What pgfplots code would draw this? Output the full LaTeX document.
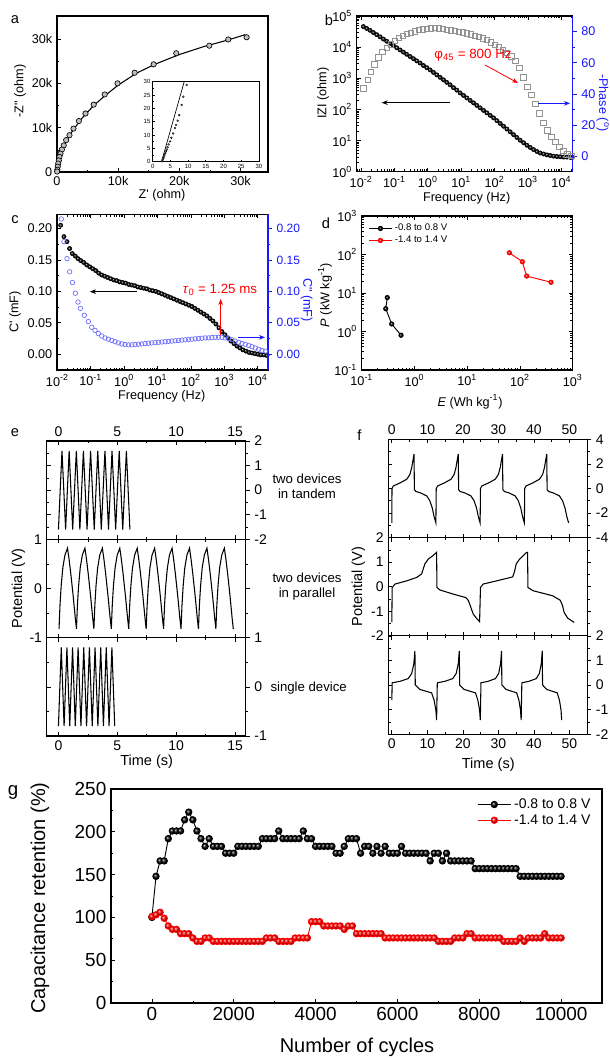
\documentclass[border=0pt]{standalone}
\usepackage{fontspec}
\setmainfont{Liberation Sans}
\usepackage{pgfplots}
\pgfplotsset{compat=1.18}
\usetikzlibrary{arrows.meta}
\newcommand{\fs}[1]{\fontsize{#1}{#1}\selectfont}
\newcommand{\tp}[1]{10\textsuperscript{#1}}
\definecolor{pblue}{rgb}{0.1,0.1,1}
\definecolor{cblue}{rgb}{0.42,0.42,1}
\pgfplotsset{
  mlx/.style={minor xtick={2e-3,3e-3,4e-3,5e-3,6e-3,7e-3,8e-3,9e-3,2e-2,3e-2,4e-2,5e-2,6e-2,7e-2,8e-2,9e-2,0.2,0.3,0.4,0.5,0.6,0.7,0.8,0.9,2,3,4,5,6,7,8,9,20,30,40,50,60,70,80,90,200,300,400,500,600,700,800,900,2000,3000,4000,5000,6000,7000,8000,9000,20000}},
  mly/.style={minor ytick={0.2,0.3,0.4,0.5,0.6,0.7,0.8,0.9,2,3,4,5,6,7,8,9,20,30,40,50,60,70,80,90,200,300,400,500,600,700,800,900,2000,3000,4000,5000,6000,7000,8000,9000,20000,30000,40000,50000,60000,70000,80000,90000}},
  every axis/.append style={scale only axis, anchor=north west,
    axis line style={line width=0.8pt},
    every tick/.append style={line width=0.5pt,black},
    major tick length=3pt, minor tick length=1.7pt, tick align=inside,
    tick label style={font=\fs{9.5}},
    scaled x ticks=false, scaled y ticks=false,
    /pgf/number format/assume math mode=true},
  rax/.style={axis x line=none, axis y line*=right, tick align=outside},
  ebase/.style={width=149.25pt, height=73.75pt, xmin=-1, xmax=15.9, xtick={0,5,10,15}, minor x tick num=1, tick label style={font=\fs{10.5}}},
  fbase/.style={width=149.25pt, height=73.7pt, xmin=-1, xmax=55, xtick={0,10,20,30,40,50}, minor x tick num=1, tick label style={font=\fs{10.5}}},
}
\begin{document}
\begin{tikzpicture}
\useasboundingbox (0,0) rectangle (457.5pt,-795pt);
% ---------------- panel a
\begin{axis}[at={(42.75pt,-12pt)}, width=158.25pt, height=117pt,
  xmin=0, xmax=34500, ymin=0, ymax=35200,
  xtick={0,10000,20000,30000}, xticklabels={0,10k,20k,30k},
  ytick={0,10000,20000,30000}, yticklabels={0,10k,20k,30k},
  minor x tick num=1, minor y tick num=1, xtick pos=left, ytick pos=left]
\addplot[black, line width=0.8pt] coordinates {(0,0)(40,500)(150,1500)(400,3100)(800,4800)(1500,6900)(2500,9200)(4000,12000)(6000,15000)(8000,17400)(10000,19600)(13000,22300)(16000,24300)(20000,26500)(24000,28300)(28000,29800)(30800,31000)};
\addplot[only marks, mark=*, mark size=2pt, mark options={fill=gray!50, draw=black, line width=0.5pt}] coordinates {(31000,30400)(28000,29900)(24900,28500)(19500,26800)(15800,24300)(12700,22400)(9900,20000)(7800,17500)(6000,15200)(4660,13200)(3570,11500)(2700,9800)(2040,8300)(1500,7200)(1100,6000)(800,5050)(570,4150)(400,3400)(300,2600)(200,1900)(120,1200)(60,500)(20,100)};
\end{axis}
% inset
\begin{axis}[at={(114.5pt,-61.3pt)}, width=79.7pt, height=60pt,
  xmin=0, xmax=30, ymin=0, ymax=30, xtick={0,5,...,30}, ytick={0,5,...,30},
  minor x tick num=1, minor y tick num=1, xtick pos=left, ytick pos=left,
  tick label style={font=\fs{4.5}}, major tick length=1.5pt, minor tick length=0.8pt,
  axis line style={line width=0.5pt}, axis background/.style={fill=white},
  xticklabel style={yshift=1.8pt}, yticklabel style={xshift=1.8pt}]
\addplot[black, line width=0.5pt] coordinates {(2.5,0)(8.9,30)};
\addplot[only marks, mark=*, mark size=0.7pt, mark options={fill=gray!50, draw=black, line width=0.3pt}] coordinates {(2.6,0.2)(2.75,0.6)(2.9,1.0)(3.0,1.4)(3.15,1.9)(3.3,2.4)(3.5,3.1)(3.7,3.8)(3.95,4.5)(4.2,5.4)(4.5,6.5)(4.9,7.6)(5.3,9.0)(5.8,10.6)(6.3,12.6)(6.6,13.8)(7.05,15.4)(7.5,17.5)(8.2,21.3)(8.65,24.4)(9.6,28.8)};
\end{axis}
\node[font=\fs{9.5}] at (121.5pt,-146.25pt) {Z\textquotesingle\ (ohm)};
\node[font=\fs{9.5}, rotate=90] at (15pt,-68.25pt) {-Z\textquotedbl\ (ohm)};
\node[font=\fs{11}] at (11.25pt,-15pt) {a};
% ---------------- panel b
\begin{axis}[at={(267.5pt,-12pt)}, width=162pt, height=116.8pt,
  xmode=log, ymode=log, xmin=0.0074, xmax=21900, ymin=1, ymax=1e5,
  xtick={1e-2,1e-1,1,10,100,1000,10000}, xticklabels={\tp{-2},\tp{-1},\tp{0},\tp{1},\tp{2},\tp{3},\tp{4}},
  ytick={1,10,100,1000,10000,100000}, yticklabels={\tp{0},\tp{1},\tp{2},\tp{3},\tp{4},\tp{5}},
  mlx, mly, xtick pos=both, ytick pos=left]
\addplot[only marks, mark=ball, mark size=1.6pt, mark options={ball color=black}] table[x expr={10^\thisrowno{0}}, y expr={10^\thisrowno{1}}] {
-1.93 4.66
-1.83 4.60
-1.73 4.54
-1.63 4.47
-1.53 4.40
-1.43 4.33
-1.33 4.26
-1.23 4.19
-1.13 4.12
-1.03 4.05
-0.93 3.98
-0.83 3.91
-0.73 3.84
-0.63 3.77
-0.53 3.70
-0.43 3.63
-0.33 3.56
-0.23 3.49
-0.13 3.41
-0.03 3.34
0.07 3.27
0.17 3.19
0.27 3.11
0.37 3.03
0.47 2.95
0.57 2.87
0.67 2.79
0.77 2.70
0.87 2.62
0.97 2.53
1.07 2.45
1.17 2.37
1.27 2.29
1.37 2.21
1.47 2.13
1.57 2.05
1.67 1.97
1.77 1.89
1.87 1.81
1.97 1.73
2.07 1.64
2.17 1.55
2.27 1.46
2.37 1.37
2.47 1.28
2.57 1.19
2.67 1.10
2.77 1.01
2.87 0.93
2.97 0.85
3.07 0.78
3.17 0.71
3.27 0.65
3.37 0.60
3.47 0.57
3.57 0.54
3.67 0.52
3.77 0.50
3.87 0.49
3.97 0.48
4.07 0.47
4.17 0.47
4.27 0.46
4.33 0.46
};
\end{axis}
\begin{axis}[at={(267.5pt,-12pt)}, width=162pt, height=116.8pt, rax,
  xmode=log, xmin=0.0074, xmax=21900, ymin=-10, ymax=90,
  ytick={0,20,40,60,80}, minor y tick num=1,
  y axis line style={pblue, line width=0.8pt}, every tick/.append style={pblue}, yticklabel style={pblue}]
\addplot[only marks, mark=square, mark size=2pt, mark options={draw=gray!85, line width=0.6pt}] table[x expr={10^\thisrowno{0}}, y index=1] {
-1.93 43.5
-1.80 48.9
-1.70 54.2
-1.60 59.0
-1.48 63.5
-1.36 67.0
-1.23 69.6
-1.11 71.8
-0.98 74.0
-0.86 75.8
-0.74 77.2
-0.62 78.3
-0.50 79.3
-0.38 80.1
-0.26 80.9
-0.14 81.5
-0.02 81.9
0.10 82.1
0.22 82.2
0.34 82.0
0.46 81.6
0.58 81.2
0.70 80.8
0.82 80.4
0.94 79.9
1.06 79.4
1.18 78.8
1.30 78.1
1.42 77.3
1.54 76.5
1.66 75.6
1.78 74.5
1.90 73.1
2.02 71.6
2.14 70.0
2.26 68.3
2.38 66.3
2.50 64.0
2.62 61.0
2.74 56.8
2.86 50.5
2.98 44.5
3.10 39.5
3.22 33.5
3.34 27.5
3.46 21.2
3.58 16.5
3.70 12.5
3.82 9.0
3.94 5.8
4.06 3.3
4.18 1.2
4.30 0.0
};
\end{axis}
\node[font=\fs{9.5}] at (350pt,-148.3pt) {Frequency (Hz)};
\node[font=\fs{9.5}, rotate=90] at (242.25pt,-69.75pt) {IZI (ohm)};
\node[font=\fs{9.5}, rotate=-90, text=pblue] at (452pt,-77.25pt) {-Phase (\textsuperscript{o})};
\node[font=\fs{10}, text=red] at (354.75pt,-41.25pt) {φ\textsubscript{45} = 800 Hz};
\draw[red, line width=0.6pt, -{Stealth[length=4.5pt,width=3.5pt]}] (363.75pt,-48.75pt) -- (388.5pt,-62.25pt);
\draw[black, line width=0.6pt, -{Stealth[length=4.5pt,width=3.5pt]}] (337.5pt,-77pt) -- (286.3pt,-77pt);
\draw[pblue, line width=0.6pt, -{Stealth[length=4.5pt,width=3.5pt]}] (403.7pt,-77.5pt) -- (427.5pt,-77.5pt);
\node[font=\fs{11}] at (246.75pt,-15pt) {b};
% ---------------- panel c
\begin{axis}[at={(42.75pt,-160.7pt)}, width=158.25pt, height=116.8pt,
  xmode=log, xmin=0.0098, xmax=20400, ymin=-0.025, ymax=0.2225,
  xtick={1e-2,1e-1,1,10,100,1000,10000}, xticklabels={\tp{-2},\tp{-1},\tp{0},\tp{1},\tp{2},\tp{3},\tp{4}},
  ytick={0,0.05,0.1,0.15,0.2}, yticklabels={0.00,0.05,0.10,0.15,0.20}, minor y tick num=1,
  mlx, xtick pos=both, ytick pos=left]
\addplot[only marks, mark=ball, mark size=1.6pt, mark options={ball color=black}] table[x expr={10^\thisrowno{0}}, y index=1] {
-1.90 0.205
-1.80 0.187
-1.71 0.179
-1.63 0.168
-1.55 0.160
-1.46 0.156
-1.38 0.152
-1.30 0.149
-1.21 0.146
-1.12 0.142
-1.03 0.139
-0.94 0.136
-0.85 0.133
-0.76 0.129
-0.67 0.126
-0.58 0.124
-0.49 0.122
-0.40 0.120
-0.31 0.118
-0.22 0.117
-0.13 0.115
-0.04 0.114
0.05 0.113
0.14 0.111
0.23 0.110
0.32 0.109
0.41 0.107
0.50 0.106
0.59 0.105
0.68 0.104
0.77 0.102
0.86 0.101
0.95 0.100
1.04 0.098
1.13 0.096
1.22 0.094
1.31 0.092
1.40 0.090
1.49 0.088
1.58 0.086
1.67 0.084
1.76 0.082
1.85 0.080
1.94 0.078
2.03 0.076
2.12 0.073
2.21 0.070
2.30 0.067
2.39 0.064
2.48 0.061
2.57 0.057
2.66 0.053
2.75 0.048
2.84 0.042
2.93 0.036
3.02 0.031
3.11 0.026
3.20 0.021
3.29 0.017
3.38 0.013
3.47 0.010
3.56 0.007
3.65 0.005
3.74 0.003
3.83 0.002
3.92 0.001
4.01 0.000
4.10 -0.001
4.19 -0.001
4.28 -0.002
};
\end{axis}
\begin{axis}[at={(42.75pt,-160.7pt)}, width=158.25pt, height=116.8pt, rax,
  xmode=log, xmin=0.0098, xmax=20400, ymin=-0.025, ymax=0.2225,
  ytick={0,0.05,0.1,0.15,0.2}, yticklabels={0.00,0.05,0.10,0.15,0.20}, minor y tick num=1,
  yticklabel style={pblue, font=\fs{9}},
  y axis line style={pblue, line width=0.8pt}, every tick/.append style={pblue}]
\addplot[only marks, mark=o, mark size=1.7pt, mark options={draw=cblue, line width=0.5pt}] table[x expr={10^\thisrowno{0}}, y index=1] {
-1.88 0.215
-1.80 0.179
-1.71 0.152
-1.63 0.131
-1.55 0.114
-1.46 0.097
-1.38 0.083
-1.31 0.073
-1.19 0.062
-1.07 0.052
-0.97 0.043
-0.87 0.038
-0.77 0.033
-0.67 0.029
-0.57 0.026
-0.47 0.024
-0.37 0.022
-0.27 0.020
-0.17 0.018
-0.07 0.0165
0.03 0.0155
0.13 0.015
0.23 0.015
0.33 0.0155
0.43 0.016
0.53 0.0165
0.63 0.017
0.73 0.0175
0.83 0.018
0.93 0.0185
1.03 0.019
1.13 0.0195
1.23 0.020
1.33 0.0205
1.43 0.021
1.53 0.0215
1.63 0.022
1.73 0.0225
1.83 0.023
1.93 0.0235
2.03 0.024
2.13 0.0245
2.23 0.025
2.33 0.0255
2.43 0.026
2.53 0.026
2.63 0.0265
2.73 0.027
2.83 0.027
2.93 0.027
3.03 0.026
3.13 0.025
3.23 0.023
3.33 0.021
3.43 0.019
3.53 0.017
3.63 0.016
3.73 0.014
3.83 0.012
3.93 0.010
4.03 0.008
4.13 0.006
4.23 0.005
};
\end{axis}
\node[font=\fs{9.5}] at (121.3pt,-297.5pt) {Frequency (Hz)};
\node[font=\fs{9.5}, rotate=90] at (11.25pt,-234pt) {C\textquotesingle\ (mF)};
\node[font=\fs{9.5}, rotate=-90, text=pblue] at (230pt,-225pt) {C\textquotedbl\ (mF)};
\node[font=\fs{10}, text=red] at (165pt,-217.5pt) {\textit{τ}\textsubscript{0} = 1.25 ms};
\draw[red, line width=0.6pt, -{Stealth[length=4.5pt,width=3.5pt]}] (165.5pt,-251.25pt) -- (165.5pt,-224.25pt);
\draw[black, line width=0.6pt, -{Stealth[length=4.5pt,width=3.5pt]}] (102.5pt,-218.75pt) -- (67.5pt,-218.75pt);
\draw[pblue, line width=0.6pt, -{Stealth[length=4.5pt,width=3.5pt]}] (178.7pt,-253pt) -- (198.75pt,-253pt);
\node[font=\fs{11}] at (11.25pt,-165pt) {c};
% ---------------- panel d
\begin{axis}[at={(271.3pt,-162pt)}, width=158.25pt, height=115.5pt,
  xmode=log, ymode=log, xmin=0.1, xmax=1000, ymin=0.1, ymax=1000,
  xtick={0.1,1,10,100,1000}, xticklabels={\tp{-1},\tp{0},\tp{1},\tp{2},\tp{3}},
  ytick={0.1,1,10,100,1000}, yticklabels={\tp{-1},\tp{0},\tp{1},\tp{2},\tp{3}},
  mlx, mly,
  legend style={at={(0.025,0.975)}, anchor=north west, draw=none, fill=none, font=\fs{7.2}, row sep=-1.5pt, inner sep=1pt},
  legend cell align=left,
  legend image code/.code={\draw[mark repeat=2,mark phase=2,#1] plot coordinates {(0pt,0pt) (8.5pt,0pt) (17pt,0pt)};}]
\addplot[black, line width=0.7pt, mark=ball, mark size=1.6pt, mark options={ball color=black}] coordinates {(0.305,7.6)(0.285,3.9)(0.37,1.57)(0.556,0.8)};
\addlegendentry{-0.8 to 0.8 V}
\addplot[red, line width=0.7pt, mark=ball, mark size=1.6pt, mark options={ball color=red}] coordinates {(62.8,111)(111,65)(134,27.5)(388,19)};
\addlegendentry{-1.4 to 1.4 V}
\end{axis}
\node[font=\fs{9.5}] at (352.5pt,-301.3pt) {\textit{E} (Wh kg\textsuperscript{-1})};
\node[font=\fs{9.5}, rotate=90] at (243.75pt,-221.25pt) {\textit{P} (kW kg\textsuperscript{-1})};
\node[font=\fs{11}] at (244.5pt,-167.25pt) {d};
% ---------------- panel e
\begin{axis}[at={(35pt,-330.75pt)}, ebase, ymin=-2, ymax=2, ytick={-2,-1,0,1,2}, minor y tick num=1,
  yticklabels={}, ytick pos=left, xtick pos=both, xticklabel pos=upper, xticklabels={0,5,10,15}]
\addplot[black, line width=0.8pt] coordinates {(0,-1.6)(0.3,1.6)(0.61,-1.6)(0.91,1.6)(1.21,-1.6)(1.52,1.6)(1.82,-1.6)(2.12,1.6)(2.43,-1.6)(2.73,1.6)(3.04,-1.6)(3.34,1.6)(3.64,-1.6)(3.95,1.6)(4.25,-1.6)(4.55,1.6)(4.86,-1.6)(5.16,1.6)(5.46,-1.6)(5.77,1.6)(6.07,-1.6)};
\end{axis}
\begin{axis}[at={(35pt,-330.75pt)}, ebase, rax, ymin=-2, ymax=2, ytick={-2,-1,0,1,2}, yticklabels={-2,-1,0,1,2}, minor y tick num=1]
\end{axis}
\begin{axis}[at={(35pt,-404.5pt)}, ebase, ymin=-1, ymax=1, ytick={-1,0,1}, yticklabels={-1,0,1}, minor y tick num=1,
  ytick pos=left, xtick pos=both, xticklabels={}]
\addplot[black, line width=0.8pt] coordinates {(0.05,-0.82)(0.13,-0.35)(0.23,0.05)(0.37,0.42)(0.55,0.68)(0.77,0.82)(0.90,0.6)(1.05,0.3)(1.25,-0.15)(1.43,-0.6)
(1.53,-0.82)(1.61,-0.35)(1.71,0.05)(1.85,0.42)(2.03,0.68)(2.25,0.82)(2.38,0.6)(2.53,0.3)(2.73,-0.15)(2.91,-0.6)
(3.01,-0.82)(3.09,-0.35)(3.19,0.05)(3.33,0.42)(3.51,0.68)(3.73,0.82)(3.86,0.6)(4.01,0.3)(4.21,-0.15)(4.39,-0.6)
(4.49,-0.82)(4.57,-0.35)(4.67,0.05)(4.81,0.42)(4.99,0.68)(5.21,0.82)(5.34,0.6)(5.49,0.3)(5.69,-0.15)(5.87,-0.6)
(5.97,-0.82)(6.05,-0.35)(6.15,0.05)(6.29,0.42)(6.47,0.68)(6.69,0.82)(6.82,0.6)(6.97,0.3)(7.17,-0.15)(7.35,-0.6)
(7.45,-0.82)(7.53,-0.35)(7.63,0.05)(7.77,0.42)(7.95,0.68)(8.17,0.82)(8.30,0.6)(8.45,0.3)(8.65,-0.15)(8.83,-0.6)
(8.93,-0.82)(9.01,-0.35)(9.11,0.05)(9.25,0.42)(9.43,0.68)(9.65,0.82)(9.78,0.6)(9.93,0.3)(10.13,-0.15)(10.31,-0.6)
(10.41,-0.82)(10.49,-0.35)(10.59,0.05)(10.73,0.42)(10.91,0.68)(11.13,0.82)(11.26,0.6)(11.41,0.3)(11.61,-0.15)(11.79,-0.6)
(11.89,-0.82)(11.97,-0.35)(12.07,0.05)(12.21,0.42)(12.39,0.68)(12.61,0.82)(12.74,0.6)(12.89,0.3)(13.09,-0.15)(13.27,-0.6)
(13.37,-0.82)(13.45,-0.35)(13.55,0.05)(13.69,0.42)(13.87,0.68)(14.09,0.82)(14.22,0.6)(14.37,0.3)(14.57,-0.15)(14.75,-0.6)
(14.85,-0.82)};
\end{axis}
\begin{axis}[at={(35pt,-404.5pt)}, ebase, rax, ymin=-1, ymax=1, ytick={-1,0,1}, yticklabels={}, minor y tick num=1]
\end{axis}
\begin{axis}[at={(35pt,-478.25pt)}, ebase, ymin=-1, ymax=1, ytick={-1,0,1}, yticklabels={}, minor y tick num=1,
  ytick pos=left, xtick pos=both, xticklabels={0,5,10,15}]
\addplot[black, line width=0.8pt] coordinates {(0,-0.8)(0.24,0.8)(0.48,-0.8)(0.72,0.8)(0.96,-0.8)(1.2,0.8)(1.43,-0.8)(1.67,0.8)(1.91,-0.8)(2.15,0.8)(2.39,-0.8)(2.63,0.8)(2.87,-0.8)(3.11,0.8)(3.35,-0.8)(3.59,0.8)(3.82,-0.8)(4.06,0.8)(4.3,-0.8)(4.54,0.8)(4.78,-0.8)};
\end{axis}
\begin{axis}[at={(35pt,-478.25pt)}, ebase, rax, ymin=-1, ymax=1, ytick={-1,0,1}, yticklabels={-1,0,1}, minor y tick num=1]
\end{axis}
\node[font=\fs{10.9}, rotate=90] at (13.7pt,-441.2pt) {Potential (V)};
\node[font=\fs{10.9}] at (110pt,-571.3pt) {Time (s)};
\node[font=\fontsize{9.9}{11.3}\selectfont, align=center] at (230.25pt,-364.5pt) {two devices\\in tandem};
\node[font=\fontsize{9.9}{11.3}\selectfont, align=center] at (230.25pt,-439.7pt) {two devices\\in parallel};
\node[font=\fontsize{9.9}{11.3}\selectfont] at (231.5pt,-516.2pt) {single device};
\node[font=\fs{11}] at (11.25pt,-324.5pt) {e};
% ---------------- panel f
\begin{axis}[at={(291.2pt,-329.5pt)}, fbase, ymin=-4, ymax=4, ytick={-4,-2,0,2,4}, minor y tick num=1,
  yticklabels={}, ytick pos=left, xtick pos=both, xticklabel pos=upper, xticklabels={0,10,20,30,40,50}]
\addplot[black, line width=0.8pt] coordinates {(0,-2.8)(0.05,0)(0.4,0.2)(2.3,0.45)(4.2,0.75)(5.1,1.15)(5.6,1.7)(5.95,2.3)(6.25,2.8)(6.35,-0.1)(6.8,-0.25)(8.0,-0.35)(9.8,-0.6)(10.7,-1.0)(11.4,-1.6)(11.9,-2.3)(12.4,-2.8)
(12.5,0)(12.85,0.2)(14.75,0.45)(16.65,0.75)(17.55,1.15)(18.05,1.7)(18.4,2.3)(18.7,2.8)(18.8,-0.1)(19.25,-0.25)(20.45,-0.35)(22.25,-0.6)(23.15,-1.0)(23.85,-1.6)(24.35,-2.3)(24.85,-2.8)
(24.95,0)(25.3,0.2)(27.2,0.45)(29.1,0.75)(30.0,1.15)(30.5,1.7)(30.85,2.3)(31.15,2.8)(31.25,-0.1)(31.7,-0.25)(32.9,-0.35)(34.7,-0.6)(35.6,-1.0)(36.3,-1.6)(36.8,-2.3)(37.3,-2.8)
(37.4,0)(37.75,0.2)(39.65,0.45)(41.55,0.75)(42.45,1.15)(42.95,1.7)(43.3,2.3)(43.6,2.8)(43.7,-0.1)(44.15,-0.25)(45.35,-0.35)(47.15,-0.6)(48.05,-1.0)(48.75,-1.6)(49.25,-2.3)(49.75,-2.8)};
\end{axis}
\begin{axis}[at={(291.2pt,-329.5pt)}, fbase, rax, ymin=-4, ymax=4, ytick={-4,-2,0,2,4}, yticklabels={-4,-2,0,2,4}, minor y tick num=1]
\end{axis}
\begin{axis}[at={(291.2pt,-403.2pt)}, fbase, ymin=-2, ymax=2, ytick={-2,-1,0,1,2}, yticklabels={-2,-1,0,1,2}, minor y tick num=1,
  ytick pos=left, xtick pos=both, xticklabels={}]
\addplot[black, line width=0.8pt] coordinates {(0,-1.45)(0.1,-0.03)(0.9,0.11)(4.2,0.24)(7.0,0.38)(8.4,0.52)(8.9,0.75)(9.3,0.93)(10.3,1.13)(11.6,1.27)(12.6,1.4)(12.7,-0.03)(13.5,-0.13)(17.3,-0.3)(20.8,-0.44)(21.5,-0.55)(21.9,-0.7)(22.9,-1.11)(23.8,-1.28)(24.7,-1.42)
(24.95,-0.03)(25.7,0.11)(29.8,0.25)(34.0,0.4)(34.5,0.6)(35.0,0.93)(36.0,1.13)(37.8,1.38)(38.2,1.4)(38.3,-0.03)(39.7,-0.16)(45.3,-0.37)(47.4,-0.55)(48.0,-0.75)(48.5,-1.05)(49.5,-1.28)(51.3,-1.45)};
\end{axis}
\begin{axis}[at={(291.2pt,-403.2pt)}, fbase, rax, ymin=-2, ymax=2, ytick={-2,-1,0,1,2}, yticklabels={}, minor y tick num=1]
\end{axis}
\begin{axis}[at={(291.2pt,-476.9pt)}, fbase, ymin=-2, ymax=2, ytick={-2,-1,0,1,2}, yticklabels={}, minor y tick num=1,
  ytick pos=left, xtick pos=both, xticklabels={0,10,20,30,40,50}]
\addplot[black, line width=0.8pt] coordinates {(0,-0.62)(0.1,0.09)(2.3,0.15)(4.6,0.26)(5.6,0.47)(6.2,0.87)(6.5,1.39)(6.6,0.0)(7.9,-0.18)(11.2,-0.32)(11.9,-0.62)(12.4,-1.02)(12.6,-1.43)
(12.8,0.09)(14.93,0.15)(17.15,0.26)(18.12,0.47)(18.7,0.87)(18.99,1.39)(19.09,0.0)(20.35,-0.18)(23.54,-0.32)(24.22,-0.62)(24.7,-1.02)(24.9,-1.43)
(25.09,0.09)(27.08,0.15)(29.16,0.26)(30.07,0.47)(30.61,0.87)(30.88,1.39)(30.97,0.0)(32.15,-0.18)(35.14,-0.32)(35.77,-0.62)(36.22,-1.02)(36.4,-1.43)
(36.59,0.09)(38.56,0.15)(40.63,0.26)(41.52,0.47)(42.06,0.87)(42.33,1.39)(42.42,0.0)(43.59,-0.18)(46.55,-0.32)(47.17,-0.62)(47.62,-1.02)(47.8,-1.43)};
\end{axis}
\begin{axis}[at={(291.2pt,-476.9pt)}, fbase, rax, ymin=-2, ymax=2, ytick={-2,-1,0,1,2}, yticklabels={-2,-1,0,1,2}, minor y tick num=1]
\end{axis}
\node[font=\fs{10.9}, rotate=90] at (268.7pt,-440pt) {Potential (V)};
\node[font=\fs{10.9}] at (366.2pt,-573.75pt) {Time (s)};
\node[font=\fs{11}] at (269.5pt,-326.25pt) {f};
% ---------------- panel g
\begin{axis}[at={(83.25pt,-591.75pt)}, width=368.25pt, height=160.5pt,
  xmin=-1000, xmax=11000, ymin=0, ymax=250,
  xtick={0,2000,4000,6000,8000,10000}, xticklabels={0,2000,4000,6000,8000,10000},
  ytick={0,50,100,150,200,250}, yticklabels={0,50,100,150,200,250},
  minor x tick num=1, minor y tick num=1, xtick pos=left, ytick pos=left,
  tick label style={font=\fs{14.2}},
  legend style={at={(0.985,0.975)}, anchor=north east, draw=none, fill=none, font=\fs{10.5}, row sep=-1pt, inner sep=1pt},
  legend cell align=left,
  legend image code/.code={\draw[mark repeat=2,mark phase=2,#1] plot coordinates {(0pt,0pt) (12.5pt,0pt) (25pt,0pt)};}]
\addplot[black, line width=0.7pt, mark=ball, mark size=2.4pt, mark options={ball color=black}] table {
0 100
100 148
200 166
300 166
400 192
500 201
600 201
700 201
800 214
900 223
1000 214
1100 201
1200 192
1300 183
1400 192
1500 183
1600 183
1700 183
1800 175
1900 175
2000 175
2100 183
2200 183
2300 183
2400 183
2500 183
2600 183
2700 192
2800 192
2900 192
3000 192
3100 201
3200 192
3300 192
3400 192
3500 192
3600 192
3700 201
3800 192
3900 192
4000 183
4100 183
4200 183
4300 183
4400 183
4500 175
4600 175
4700 183
4800 192
4900 192
5000 192
5100 175
5200 183
5300 183
5400 175
5500 183
5600 175
5700 183
5800 175
5900 175
6000 175
6100 183
6200 175
6300 175
6400 175
6500 175
6600 175
6700 175
6800 166
6900 175
7000 175
7100 166
7200 175
7300 166
7400 166
7500 166
7600 166
7700 166
7800 166
7900 157
8000 157
8100 157
8200 157
8300 157
8400 157
8500 157
8600 157
8700 157
8800 157
8900 157
9000 148
9100 148
9200 148
9300 148
9400 148
9500 148
9600 148
9700 148
9800 148
9900 148
10000 148
};
\addlegendentry{-0.8 to 0.8 V}
\addplot[red, line width=0.7pt, mark=ball, mark size=2.4pt, mark options={ball color=red}] table {
0 101
100 103
200 106
300 99
400 90
500 86
600 86
700 81
800 81
900 81
1000 76
1100 72
1200 72
1300 76
1400 76
1500 72
1600 72
1700 72
1800 72
1900 72
2000 72
2100 72
2200 72
2300 72
2400 72
2500 72
2600 72
2700 72
2800 76
2900 76
3000 76
3100 72
3200 72
3300 72
3400 72
3500 76
3600 76
3700 76
3800 76
3900 95
4000 95
4100 95
4200 90
4300 90
4400 90
4500 90
4600 90
4700 86
4800 90
4900 90
5000 81
5100 81
5200 81
5300 81
5400 81
5500 81
5600 81
5700 76
5800 76
5900 76
6000 76
6100 76
6200 76
6300 76
6400 76
6500 76
6600 76
6700 76
6800 76
6900 76
7000 72
7100 72
7200 72
7300 72
7400 76
7500 76
7600 76
7700 81
7800 81
7900 76
8000 76
8100 76
8200 76
8300 76
8400 76
8500 76
8600 72
8700 72
8800 72
8900 72
9000 76
9100 72
9200 76
9300 76
9400 76
9500 76
9600 81
9700 76
9800 76
9900 76
10000 76
};
\addlegendentry{-1.4 to 1.4 V}
\end{axis}
\node[font=\fs{15}] at (267.75pt,-785.25pt) {Number of cycles};
\node[font=\fs{15}, rotate=90] at (30pt,-673.5pt) {Capacitance retention (\%)};
\node[font=\fs{14}] at (9.75pt,-594pt) {g};
\end{tikzpicture}
\end{document}
